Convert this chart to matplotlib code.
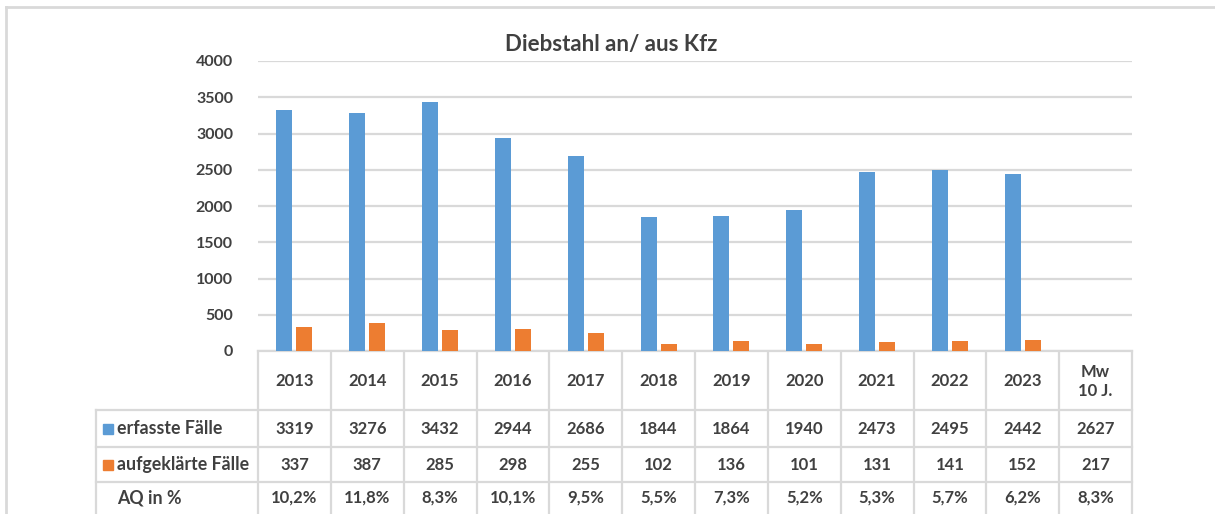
import numpy as np
import matplotlib.pyplot as plt

# data
years = ["2013", "2014", "2015", "2016", "2017", "2018", "2019", "2020",
         "2021", "2022", "2023", "Mw\n10 J."]
erfasst = [3319, 3276, 3432, 2944, 2686, 1844, 1864, 1940, 2473, 2495, 2442, 2627]
aufgeklaert = [337, 387, 285, 298, 255, 102, 136, 101, 131, 141, 152, 217]
aq = ["10,2%", "11,8%", "8,3%", "10,1%", "9,5%", "5,5%", "7,3%", "5,2%",
      "5,3%", "5,7%", "6,2%", "8,3%"]
row_labels = ["erfasste Fälle", "aufgeklärte Fälle", "AQ in %"]

blue = "#5b9bd5"
orange = "#ed7d31"
grid = "#d9d9d9"
txt = "#404040"
plt.rcParams['font.family'] = ['Lato', 'DejaVu Sans']
plt.rcParams['font.weight'] = 'bold'

W, H = 1215, 514
fig = plt.figure(figsize=(W / 100, H / 100), dpi=100)

# layout in pixels
left, right = 258, 1132
top, base = 61, 351
cw = (right - left) / len(years)
fs = 12

ax = fig.add_axes([left / W, 1 - base / H, (right - left) / W, (base - top) / H])
n_bars = 11  # the mean column has no bars
x = np.arange(n_bars)
ax.bar(x - 0.137, erfasst[:n_bars], width=0.22, color=blue, zorder=3)
ax.bar(x + 0.137, aufgeklaert[:n_bars], width=0.22, color=orange, zorder=3)
ax.set_xlim(-0.5, len(years) - 0.5)
ax.set_ylim(0, 4000)
ax.set_yticks(np.arange(0, 4001, 500))
ax.yaxis.grid(True, color=grid, linewidth=1.6, zorder=0)
ax.set_xticks([])
for s in ["top", "right", "left"]:
    ax.spines[s].set_visible(False)
ax.spines["bottom"].set_color(grid)
ax.spines["bottom"].set_linewidth(1.6)
ax.tick_params(axis="y", length=0, pad=18, labelsize=11.5, labelcolor=txt)
for lab in ax.get_yticklabels():
    lab.set_fontweight("bold")

# overlay for table, title, frame (pixel coordinates)
t = fig.add_axes([0, 0, 1, 1], zorder=-1)
t.set_xlim(0, W)
t.set_ylim(H, 0)
t.axis("off")

fig.text(611 / W, 1 - 45 / H, "Diebstahl an/ aus Kfz", ha="center", va="center",
         fontsize=16, fontweight="bold", color=txt)

# outer chart frame
t.plot([6, W], [7, 7], color=grid, lw=2)
t.plot([6, 6], [7, H], color=grid, lw=2)

lab_left = 96
rows_y = [410, 447, 482, H + 5]
lw = 1.6
# vertical lines
for i in range(len(years) + 1):
    xx = left + i * cw
    t.plot([xx, xx], [base, H], color=grid, lw=lw)
t.plot([lab_left, lab_left], [rows_y[0], H], color=grid, lw=lw)
# horizontal lines
for yy in rows_y[:3]:
    t.plot([lab_left, right], [yy, yy], color=grid, lw=lw)

# header row
for i, yr in enumerate(years):
    t.text(left + (i + 0.5) * cw, (base + rows_y[0]) / 2 + 1, yr, ha="center", va="center",
           fontsize=fs, fontweight="bold", color=txt, linespacing=1.3)

# data rows
rows = [erfasst, aufgeklaert, aq]
for r, vals in enumerate(rows):
    yc = (rows_y[r] + rows_y[r + 1]) / 2 if r < 2 else 498
    for i, v in enumerate(vals):
        t.text(left + (i + 0.5) * cw, yc, str(v), ha="center", va="center",
               fontsize=fs, fontweight="bold", color=txt)
    t.text(117, yc, row_labels[r], ha="left", va="center",
           fontsize=fs + 0.8, fontweight="bold", color=txt)

# legend keys in table
for r, c in enumerate([blue, orange]):
    yc = (rows_y[r] + rows_y[r + 1]) / 2
    t.add_patch(plt.Rectangle((103, yc - 5), 10, 10, color=c))

fig.savefig("out.png", dpi=100)
